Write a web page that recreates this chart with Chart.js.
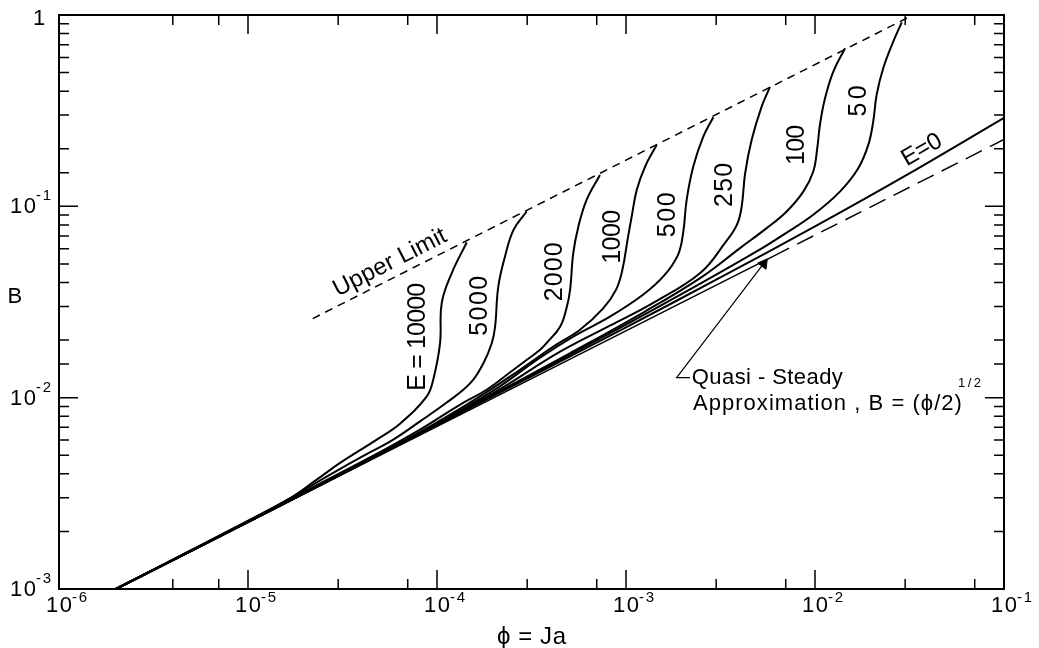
<!DOCTYPE html>
<html>
<head>
<meta charset="utf-8">
<script src="https://cdn.jsdelivr.net/npm/chart.js@4.4.1/dist/chart.umd.min.js"></script>
<style>
  html, body { margin: 0; padding: 0; background: #fff; }
  #wrap { width: 1039px; height: 648px; }
</style>
</head>
<body>
<div id="wrap"><canvas id="chart" width="1039" height="648"></canvas></div>
<script>
// values: phi = Ja on the x axis, B on the y axis
const phiE0 = [2e-6, 1e-5, 3.16e-5, 1e-4, 3.16e-4, 1e-3, 3.16e-3, 1e-2, 3.16e-2, 1e-1];
const bE0   = [1e-3, 2.24e-3, 4.01e-3, 7.19e-3, 1.294e-2, 2.33e-2, 4.25e-2, 7.85e-2, 1.486e-1, 2.90e-1];

const phi10000 = [2e-6, 6.31e-6, 1.61e-5, 2.31e-5, 3.07e-5, 4.80e-5, 6.37e-5, 8.83e-5, 9.55e-5, 1.038e-4, 1.059e-4, 1.197e-4, 1.436e-4];
const b10000   = [1e-3, 1.78e-3, 2.92e-3, 3.73e-3, 4.56e-3, 6.04e-3, 7.31e-3, 1.016e-2, 1.242e-2, 1.93e-2, 3.12e-2, 4.48e-2, 6.47e-2];

const phi5000 = [2e-6, 1.26e-5, 2.72e-5, 3.92e-5, 5.87e-5, 8.13e-5, 1.12e-4, 1.50e-4, 1.76e-4, 1.95e-4, 2.03e-4, 2.11e-4, 2.29e-4, 2.54e-4, 2.98e-4];
const b5000   = [1e-3, 2.55e-3, 3.96e-3, 4.86e-3, 6.04e-3, 7.52e-3, 9.40e-3, 1.191e-2, 1.514e-2, 1.93e-2, 2.355e-2, 3.81e-2, 5.47e-2, 7.53e-2, 9.40e-2];

const phi2000 = [2e-6, 1.585e-5, 4.47e-5, 8.13e-5, 1.32e-4, 1.83e-4, 2.54e-4, 2.99e-4, 3.51e-4, 3.80e-4, 4.48e-4, 4.85e-4, 5.06e-4, 5.26e-4, 5.60e-4, 6.19e-4, 7.28e-4];
const b2000   = [1e-3, 2.88e-3, 4.90e-3, 6.81e-3, 9.18e-3, 1.10e-2, 1.40e-2, 1.578e-2, 1.78e-2, 1.93e-2, 2.35e-2, 2.95e-2, 3.66e-2, 5.70e-2, 7.85e-2, 1.081e-1, 1.459e-1];

const phi1000 = [2e-6, 2.51e-5, 7.94e-5, 1.585e-4, 2.75e-4, 4.11e-4, 5.71e-4, 7.55e-4, 8.85e-4, 9.57e-4, 1.019e-3, 1.072e-3, 1.140e-3, 1.262e-3, 1.452e-3];
const b1000   = [1e-3, 3.57e-3, 6.53e-3, 9.77e-3, 1.40e-2, 1.845e-2, 2.265e-2, 2.92e-2, 3.66e-2, 4.66e-2, 6.68e-2, 8.85e-2, 1.219e-1, 1.614e-1, 2.094e-1];

const phi500 = [2e-6, 3.16e-5, 1e-4, 1.995e-4, 3.51e-4, 5.37e-4, 8.22e-4, 1.230e-3, 1.589e-3, 1.884e-3, 2.009e-3, 2.094e-3, 2.270e-3, 2.564e-3, 2.897e-3];
const b500   = [1e-3, 4.03e-3, 7.33e-3, 1.091e-2, 1.62e-2, 2.11e-2, 2.65e-2, 3.45e-2, 4.34e-2, 5.58e-2, 7.36e-2, 1.081e-1, 1.614e-1, 2.312e-1, 2.924e-1];

const phi250 = [2e-6, 6.31e-5, 1.995e-4, 4.48e-4, 8.22e-4, 1.393e-3, 2.47e-3, 3.34e-3, 3.86e-3, 4.09e-3, 4.27e-3, 4.62e-3, 5.22e-3, 5.78e-3];
const b250   = [1e-3, 5.75e-3, 1.059e-2, 1.738e-2, 2.377e-2, 3.13e-2, 4.48e-2, 6.44e-2, 8.00e-2, 9.93e-2, 1.489e-1, 2.223e-1, 3.32e-1, 4.21e-1];

const phi100 = [2e-6, 1e-5, 3.16e-5, 1.585e-4, 5.01e-4, 1.259e-3, 2.512e-3, 4.01e-3, 5.55e-3, 7.08e-3, 8.67e-3, 9.79e-3, 1.028e-2, 1.062e-2, 1.130e-2, 1.250e-2, 1.442e-2];
const b100   = [1e-3, 2.24e-3, 4.0e-3, 9.23e-3, 1.70e-2, 2.82e-2, 4.27e-2, 6.05e-2, 7.69e-2, 9.40e-2, 1.194e-1, 1.521e-1, 2.014e-1, 2.67e-1, 3.67e-1, 5.06e-1, 6.70e-1];

const phi50 = [2e-6, 1e-5, 1e-4, 3.16e-4, 1e-3, 2.512e-3, 4.91e-3, 6.79e-3, 9.79e-3, 1.355e-2, 1.694e-2, 1.914e-2, 2.032e-2, 2.118e-2, 2.296e-2, 2.594e-2, 2.877e-2];
const b50   = [1e-3, 2.24e-3, 7.19e-3, 1.312e-2, 2.41e-2, 3.98e-2, 5.81e-2, 7.10e-2, 9.04e-2, 1.194e-1, 1.581e-1, 2.094e-1, 2.77e-1, 3.82e-1, 5.27e-1, 7.26e-1, 9.16e-1];

// upper limit (short dashes) and quasi-steady line B = (phi/2)^1/2
const phiUpper = [2.2e-5, 3.3e-2];
const bUpper   = [2.59e-2, 1.0];
const phiQuasi = [2e-6, 6e-3, 1e-1];
const bQuasi   = [1e-3, 5.48e-2, 2.236e-1];

// arrow from the note to the quasi-steady line
const phiArrow = [2.18e-3, 1.853e-3, 5.55e-3];
const bArrow   = [1.272e-2, 1.272e-2, 5.26e-2];
const phiArrowHead = [5.35e-3];
const bArrowHead   = [5.01e-2];

const xMin = 1e-6, xMax = 1e-1, yMin = 1e-3, yMax = 1;

// text placed in data coordinates
const notes = [
  { text: 'Upper Limit', phi: 5.64e-5, b: 0.0507, rot: -27, size: 24, width: 124, align: 'center', base: 'middle' },
  { text: 'E = 10000', phi: 7.93e-5, b: 0.0208, rot: -90, size: 25, width: 108, align: 'center', base: 'middle' },
  { text: '5000', phi: 1.69e-4, b: 0.0302, rot: -90, size: 25, width: 60, align: 'center', base: 'middle' },
  { text: '2000', phi: 4.21e-4, b: 0.0455, rot: -90, size: 25, width: 59, align: 'center', base: 'middle' },
  { text: '1000', phi: 8.53e-4, b: 0.0693, rot: -90, size: 25, width: 54, align: 'center', base: 'middle' },
  { text: '500', phi: 1.667e-3, b: 0.0903, rot: -90, size: 25, width: 45, align: 'center', base: 'middle' },
  { text: '250', phi: 3.34e-3, b: 0.1294, rot: -90, size: 25, width: 44, align: 'center', base: 'middle' },
  { text: '100', phi: 8.04e-3, b: 0.2095, rot: -90, size: 25, width: 40, align: 'center', base: 'middle' },
  { text: '50', phi: 1.71e-2, b: 0.3556, rot: -90, size: 25, width: 31, align: 'center', base: 'middle' },
  { text: 'E=0', phi: 3.68e-2, b: 0.197, rot: -30, size: 24, width: 43, align: 'center', base: 'middle' },
  { text: 'Quasi - Steady', phi: 2.23e-3, b: 1.183e-2, rot: 0, size: 22, width: 151, align: 'left', base: 'alphabetic' },
  { text: 'Approximation , B = (\u03d5/2)', phi: 2.26e-3, b: 8.65e-3, rot: 0, size: 22, width: 269, align: 'left', base: 'alphabetic' },
  { text: '1/2', phi: 5.71e-2, b: 1.14e-2, rot: 0, size: 13, width: 23, align: 'left', base: 'alphabetic' }
];

const FONT = '"Liberation Sans", Arial, sans-serif';

function toPoints(xs, ys) {
  return xs.map((v, i) => ({ x: v, y: ys[i] }));
}

function curve(xs, ys) {
  return {
    data: toPoints(xs, ys),
    borderColor: '#000',
    borderWidth: 2,
    pointRadius: 0,
    tension: 0.4
  };
}

// draws text letter by letter so it spans the given width
function drawSpaced(ctx, text, x, y, width, align) {
  const chars = Array.from(text);
  const widths = chars.map(c => ctx.measureText(c).width);
  const natural = widths.reduce((a, b) => a + b, 0);
  const gap = chars.length > 1 ? (width - natural) / (chars.length - 1) : 0;
  let cx = align === 'center' ? x - width / 2 : (align === 'right' ? x - width : x);
  ctx.textAlign = 'left';
  chars.forEach((c, i) => {
    ctx.fillText(c, cx, y);
    cx += widths[i] + gap;
  });
}

function isDecade(v) {
  const l = Math.log10(v);
  return Math.abs(l - Math.round(l)) < 1e-6;
}

const overlay = {
  id: 'overlay',
  afterDraw(chart) {
    const ctx = chart.ctx;
    const a = chart.chartArea;
    const xs = chart.scales.x;
    const ys = chart.scales.y;
    ctx.save();
    ctx.strokeStyle = '#000';
    ctx.fillStyle = '#000';

    // frame
    ctx.lineWidth = 2;
    ctx.strokeRect(a.left, a.top, a.right - a.left, a.bottom - a.top);

    // inward ticks on all four sides
    ctx.lineWidth = 1.5;
    ctx.beginPath();
    xs.ticks.forEach(t => {
      const px = xs.getPixelForValue(t.value);
      const len = isDecade(t.value) ? 19 : 10;
      ctx.moveTo(px, a.bottom); ctx.lineTo(px, a.bottom - len);
      ctx.moveTo(px, a.top); ctx.lineTo(px, a.top + len);
    });
    ys.ticks.forEach(t => {
      const py = ys.getPixelForValue(t.value);
      const len = isDecade(t.value) ? 19 : 10;
      ctx.moveTo(a.left, py); ctx.lineTo(a.left + len, py);
      ctx.moveTo(a.right, py); ctx.lineTo(a.right - len, py);
    });
    ctx.stroke();

    // tick labels: 10 with a raised exponent
    ctx.textBaseline = 'alphabetic';
    xs.ticks.filter(t => isDecade(t.value)).forEach(t => {
      const px = xs.getPixelForValue(t.value);
      const exp = Math.round(Math.log10(t.value));
      ctx.font = '22px ' + FONT;
      drawSpaced(ctx, '10', px, a.bottom + 23, 26, 'center');
      ctx.font = '15px ' + FONT;
      drawSpaced(ctx, String(exp), px + 13, a.bottom + 13, 15, 'left');
    });
    ys.ticks.filter(t => isDecade(t.value)).forEach(t => {
      const py = ys.getPixelForValue(t.value);
      const exp = Math.round(Math.log10(t.value));
      if (exp === 0) {
        ctx.font = '22px ' + FONT;
        drawSpaced(ctx, '1', a.left - 14, py + 10, 12, 'right');
        return;
      }
      ctx.font = '22px ' + FONT;
      drawSpaced(ctx, '10', a.left - 23, py + 7, 26, 'right');
      ctx.font = '15px ' + FONT;
      drawSpaced(ctx, String(exp), a.left - 23, py - 6, 15, 'left');
    });

    // axis titles
    ctx.font = '22px ' + FONT;
    ctx.textBaseline = 'middle';
    drawSpaced(ctx, 'B', 15, 297, 15, 'center');
    ctx.font = '24px ' + FONT;
    drawSpaced(ctx, '\u03d5 = Ja', (a.left + a.right) / 2, 637, 69, 'center');

    // curve labels and notes
    notes.forEach(n => {
      const px = xs.getPixelForValue(n.phi);
      const py = ys.getPixelForValue(n.b);
      ctx.save();
      ctx.translate(px, py);
      ctx.rotate(n.rot * Math.PI / 180);
      ctx.font = n.size + 'px ' + FONT;
      ctx.textBaseline = n.base;
      drawSpaced(ctx, n.text, 0, 0, n.width, n.align);
      ctx.restore();
    });
    ctx.restore();
  }
};

const datasets = [
  curve(phi10000, b10000),
  curve(phi5000, b5000),
  curve(phi2000, b2000),
  curve(phi1000, b1000),
  curve(phi500, b500),
  curve(phi250, b250),
  curve(phi100, b100),
  curve(phi50, b50),
  { data: toPoints(phiE0, bE0), borderColor: '#000', borderWidth: 2, pointRadius: 0, tension: 0.3 },
  {
    data: toPoints(phiQuasi, bQuasi), borderColor: '#000', borderWidth: 1.5, pointRadius: 0, tension: 0,
    segment: { borderDash: c => (c.p0DataIndex >= 1 ? [18, 9] : undefined) }
  },
  { data: toPoints(phiUpper, bUpper), borderColor: '#000', borderWidth: 1.5, borderDash: [8, 6], pointRadius: 0, tension: 0 },
  { data: toPoints(phiArrow, bArrow), borderColor: '#000', borderWidth: 1.2, pointRadius: 0, tension: 0 },
  {
    data: toPoints(phiArrowHead, bArrowHead), showLine: false, pointStyle: 'triangle', pointRadius: 6,
    pointRotation: 37, backgroundColor: '#000', borderColor: '#000', borderWidth: 1
  }
];

new Chart(document.getElementById('chart'), {
  type: 'line',
  data: { datasets: datasets },
  options: {
    responsive: false,
    animation: false,
    layout: { padding: { left: 59, top: 15, right: 35, bottom: 59 } },
    plugins: { legend: { display: false }, tooltip: { enabled: false } },
    scales: {
      x: { type: 'logarithmic', min: xMin, max: xMax, display: false },
      y: { type: 'logarithmic', min: yMin, max: yMax, display: false }
    }
  },
  plugins: [overlay]
});
</script>
</body>
</html>
